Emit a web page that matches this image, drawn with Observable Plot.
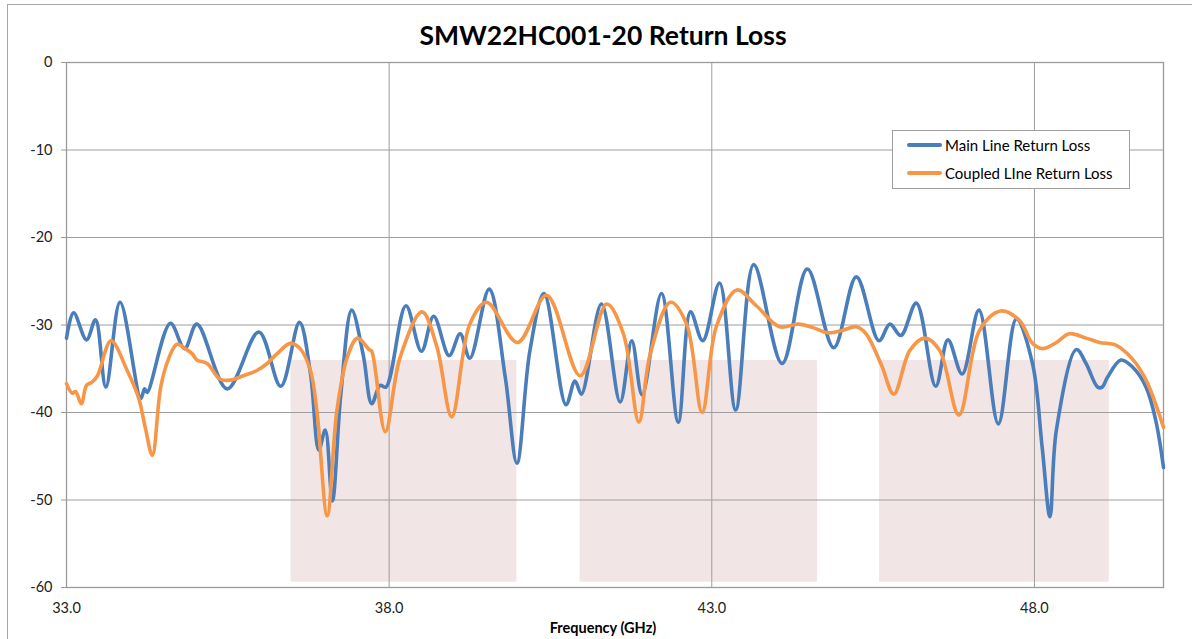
<!DOCTYPE html>
<html>
<head>
<meta charset="utf-8">
<script src="https://cdn.jsdelivr.net/npm/d3@7"></script>
<script src="https://cdn.jsdelivr.net/npm/@observablehq/plot@0.6"></script>
<style>
  html, body { margin: 0; padding: 0; background: #fff; overflow: hidden; }
  #wrap { position: relative; width: 1192px; height: 639px; font-family: Lato, "Open Sans", sans-serif; }
  #border { position: absolute; left: 7px; top: 4px; width: 1200px; height: 700px; border: 1px solid #a6a6a6; box-sizing: border-box; }
  #title { position: absolute; left: 0; width: 1206px; top: 19px; text-align: center; font-weight: bold; font-size: 26.5px; color: #000; }
  #xlabel { position: absolute; left: 0; width: 1206px; top: 619px; text-align: center; font-weight: bold; font-size: 14.5px; color: #000; }
  #legend { position: absolute; left: 892px; top: 130px; width: 238px; height: 59px; box-sizing: border-box; border: 1px solid #a0a0a0; background: #fff; font-size: 15px; color: #000; }
  .item { position: absolute; left: 14px; height: 20px; display: flex; align-items: center; }
  .swatch { width: 35px; height: 3.5px; border-radius: 2px; margin-right: 3px; }
  #chart { position: absolute; left: 0; top: 0; }
</style>
</head>
<body>
<div id="wrap">
  <div id="border"></div>
  <div id="chart"></div>
  <div id="title">SMW22HC001-20 Return Loss</div>
  <div id="xlabel">Frequency (GHz)</div>
  <div id="legend"></div>
</div>
<script>
// ---- data ----
const seriesNames = ["Main Line Return Loss", "Coupled LIne Return Loss"];
const seriesColors = ["#4a7ebb", "#f79646"];

const mainFreq = [33.00,33.11,33.31,33.45,33.61,33.83,34.15,34.21,34.25,34.61,34.83,35.02,35.49,35.98,36.32,36.61,36.78,36.91,37.01,37.12,37.25,37.42,37.60,37.73,37.86,37.95,38.26,38.50,38.69,38.93,39.10,39.25,39.55,39.80,39.98,40.18,40.40,40.74,40.88,40.98,41.29,41.58,41.76,41.92,42.22,42.48,42.67,42.86,43.12,43.37,43.65,44.09,44.48,44.89,45.24,45.59,45.76,45.93,46.17,46.47,46.66,46.88,47.14,47.44,47.72,47.97,48.12,48.24,48.34,48.65,48.80,48.98,49.05,49.13,49.34,49.52,49.73,49.88,50.00];
const mainLoss = [-31.5,-28.6,-31.7,-29.4,-37.1,-27.4,-38.4,-37.3,-37.7,-29.8,-32.7,-29.9,-37.3,-30.8,-37.0,-29.7,-35.5,-44.3,-42.0,-50.1,-38.0,-28.3,-33.5,-39.0,-36.9,-37.1,-27.8,-33.0,-29.0,-33.5,-31.0,-33.8,-25.9,-36.0,-45.8,-33.0,-26.4,-39.1,-36.4,-37.9,-27.6,-38.8,-31.8,-38.0,-26.4,-41.1,-28.5,-31.8,-25.2,-39.7,-23.1,-34.4,-23.6,-32.6,-24.5,-31.8,-29.9,-31.2,-27.5,-37.0,-31.7,-35.6,-28.3,-41.3,-29.3,-34.4,-44.0,-51.9,-42.0,-32.8,-34.4,-37.1,-37.1,-36.0,-34.0,-34.8,-37.1,-40.9,-46.3];

const coupledFreq = [33.00,33.09,33.14,33.23,33.31,33.40,33.48,33.69,33.94,34.12,34.22,34.33,34.46,34.58,34.71,34.84,34.95,35.02,35.18,35.38,35.54,35.74,35.95,36.11,36.26,36.47,36.62,36.78,36.88,37.04,37.19,37.35,37.51,37.69,37.73,37.94,38.17,38.51,38.74,38.97,39.25,39.51,39.99,40.44,40.96,41.37,41.63,41.87,42.04,42.36,42.61,42.85,43.07,43.39,43.69,44.05,44.34,44.57,44.80,45.03,45.24,45.39,45.63,45.82,46.07,46.30,46.53,46.83,47.15,47.48,47.77,47.97,48.13,48.34,48.54,48.80,49.01,49.26,49.52,49.73,50.00];
const coupledLoss = [-36.7,-37.8,-37.6,-39.0,-36.9,-36.5,-35.8,-31.8,-35.2,-38.4,-41.7,-44.9,-37.1,-33.9,-32.2,-32.7,-33.3,-34.0,-34.4,-36.2,-36.3,-35.8,-35.2,-34.4,-33.3,-32.1,-32.7,-35.2,-39.8,-51.8,-39.8,-33.7,-31.5,-32.8,-33.0,-42.2,-33.7,-28.5,-32.5,-40.5,-29.9,-27.4,-32.0,-26.6,-35.8,-27.6,-31.0,-41.1,-33.5,-27.4,-29.9,-40.0,-30.2,-26.0,-27.8,-30.2,-29.9,-30.3,-30.9,-30.6,-30.2,-31.0,-34.6,-37.9,-32.9,-31.5,-32.9,-40.3,-30.6,-28.4,-29.5,-32.1,-32.7,-32.0,-31.0,-31.5,-32.0,-32.3,-33.9,-36.3,-41.7];

// shaded bands (GHz, dB)
const bandStart = [36.48, 40.96, 45.60];
const bandEnd   = [39.98, 44.64, 49.16];
const bandTop   = [-34.06, -34.06, -34.06];
const bandBottom= [-59.4, -59.4, -59.4];

const xTicks = [33, 38, 43, 48];
const yTicks = [0, -10, -20, -30, -40, -50, -60];
const xDomain = [33, 50];
const yDomain = [-60, 0];

// ---- build tables ----
const mainData = mainFreq.map((f, i) => ({f, v: mainLoss[i]}));
const coupledData = coupledFreq.map((f, i) => ({f, v: coupledLoss[i]}));
const bands = bandStart.map((s, i) => ({x1: s, x2: bandEnd[i], y1: bandBottom[i], y2: bandTop[i]}));

const chart = Plot.plot({
  width: 1192,
  height: 639,
  marginLeft: 66,
  marginRight: 29,
  marginTop: 62,
  marginBottom: 52,
  style: {fontFamily: "Lato, 'Open Sans', sans-serif", fontSize: "14.5px", color: "#222", background: "transparent", overflow: "visible"},
  x: {domain: xDomain},
  y: {domain: yDomain},
  marks: [
    Plot.rect(bands, {x1: "x1", x2: "x2", y1: "y1", y2: "y2", fill: "#f2e5e5"}),
    Plot.gridX(xTicks, {stroke: "#9e9e9e", strokeOpacity: 1, strokeWidth: 1}),
    Plot.gridY(yTicks, {stroke: "#9e9e9e", strokeOpacity: 1, strokeWidth: 1}),
    Plot.frame({stroke: "#9a9a9a", strokeWidth: 1.3}),
    Plot.axisY(yTicks, {tickSize: 5, tickPadding: 9, tickFormat: d => String(d), label: null, stroke: "#9a9a9a", fontSize: 14.5}),
    Plot.axisX(xTicks, {tickSize: 0, tickPadding: 15, tickFormat: d => d.toFixed(1), label: null, fontSize: 14.5}),
    Plot.line(mainData, {x: "f", y: "v", stroke: seriesColors[0], strokeWidth: 3.6, curve: "catmull-rom"}),
    Plot.line(coupledData, {x: "f", y: "v", stroke: seriesColors[1], strokeWidth: 3.6, curve: "catmull-rom"})
  ]
});
document.getElementById("chart").appendChild(chart);

// legend
const legend = document.getElementById("legend");
seriesNames.forEach((name, i) => {
  const item = document.createElement("div");
  item.className = "item";
  item.style.top = (i === 0 ? 4 : 32) + "px";
  const sw = document.createElement("div");
  sw.className = "swatch";
  sw.style.background = seriesColors[i];
  const t = document.createElement("span");
  t.textContent = name;
  item.appendChild(sw);
  item.appendChild(t);
  legend.appendChild(item);
});
</script>
</body>
</html>
